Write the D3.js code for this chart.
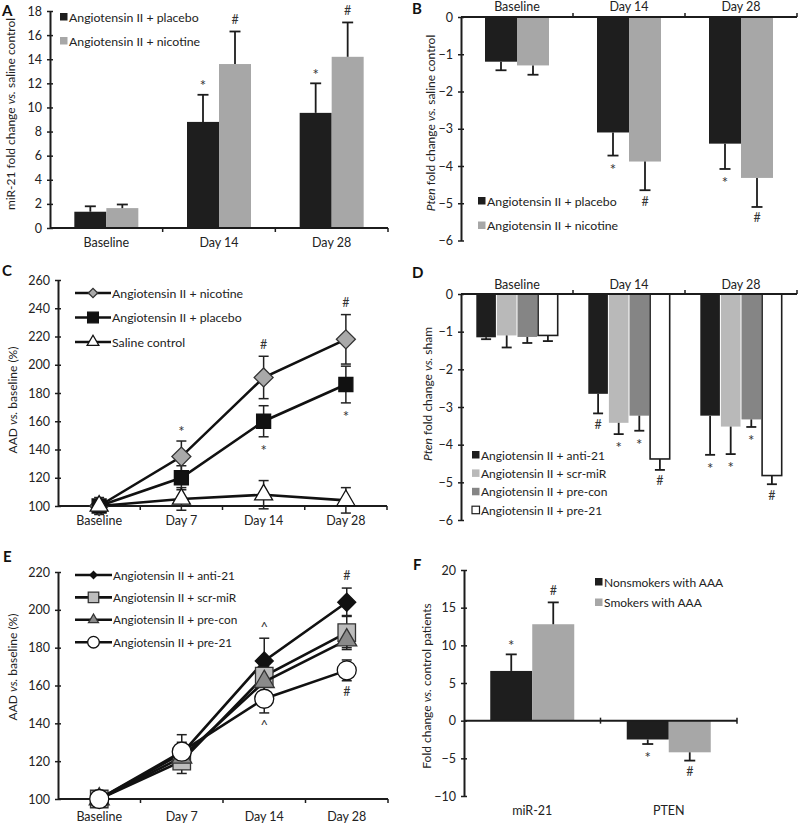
<!DOCTYPE html>
<html><head><meta charset="utf-8">
<script src="https://cdn.jsdelivr.net/npm/d3@7"></script>
<style>body{margin:0;background:#fff} svg{display:block} text{font-family:Lato,"Open Sans",sans-serif;}</style>
</head><body><svg id="c" width="800" height="824"></svg>
<script>
// ---------- Panel A ----------
const aCategories = ["Baseline", "Day 14", "Day 28"];
const aNames = ["Angiotensin II + placebo", "Angiotensin II + nicotine"];
const aPlacebo = [1.35, 8.8, 9.55];
const aPlaceboErr = [0.45, 2.25, 2.45];
const aPlaceboMarks = ["", "*", "*"];
const aNicotine = [1.65, 13.6, 14.2];
const aNicotineErr = [0.3, 2.7, 2.85];
const aNicotineMarks = ["", "#", "#"];
const aTicks = [0, 2, 4, 6, 8, 10, 12, 14, 16, 18];

// ---------- Panel B ----------
const bCategories = ["Baseline", "Day 14", "Day 28"];
const bNames = ["Angiotensin II + placebo", "Angiotensin II + nicotine"];
const bPlacebo = [-1.2, -3.1, -3.4];
const bPlaceboErr = [0.23, 0.62, 0.68];
const bPlaceboMarks = ["", "*", "*"];
const bNicotine = [-1.3, -3.88, -4.32];
const bNicotineErr = [0.25, 0.77, 0.78];
const bNicotineMarks = ["", "#", "#"];
const bTicks = [0, -1, -2, -3, -4, -5, -6];

// ---------- Panel C ----------
const cCategories = ["Baseline", "Day 7", "Day 14", "Day 28"];
const cNames = ["Angiotensin II + nicotine", "Angiotensin II + placebo", "Saline control"];
const cNicotine = [100, 135, 191, 218];
const cNicotineErr = [4, 11, 15, 17.5];
const cNicotineMarks = ["", "*", "#", "#"];
const cPlacebo = [100, 120, 160, 186];
const cPlaceboErr = [6, 8.5, 11, 13];
const cPlaceboMarks = ["", "", "*", "*"];
const cSaline = [100, 105, 108, 104];
const cSalineErr = [3, 8, 10, 9];
const cSalineMarks = ["", "", "", ""];
const cTicks = [100, 120, 140, 160, 180, 200, 220, 240, 260];

// ---------- Panel D ----------
const dCategories = ["Baseline", "Day 14", "Day 28"];
const dNames = ["Angiotensin II + anti-21", "Angiotensin II + scr-miR", "Angiotensin II + pre-con", "Angiotensin II + pre-21"];
const dAnti = [-1.15, -2.65, -3.23];
const dAntiErr = [0.05, 0.52, 1.04];
const dAntiMarks = ["", "#", "*"];
const dScr = [-1.1, -3.42, -3.52];
const dScrErr = [0.32, 0.3, 0.73];
const dScrMarks = ["", "*", "*"];
const dPreCon = [-1.14, -3.23, -3.33];
const dPreConErr = [0.16, 0.4, 0.2];
const dPreConMarks = ["", "*", "*"];
const dPre21 = [-1.1, -4.38, -4.82];
const dPre21Err = [0.15, 0.29, 0.23];
const dPre21Marks = ["", "#", "#"];
const dTicks = [0, -1, -2, -3, -4, -5, -6];

// ---------- Panel E ----------
const eCategories = ["Baseline", "Day 7", "Day 14", "Day 28"];
const eNames = ["Angiotensin II + anti-21", "Angiotensin II + scr-miR", "Angiotensin II + pre-con", "Angiotensin II + pre-21"];
const eAnti = [100, 124, 173, 204];
const eAntiErr = [0, 6, 12, 7.5];
const eAntiMarks = ["", "", "^", "#"];
const eScr = [100, 120, 165, 188];
const eScrErr = [0, 6.5, 8, 9];
const eScrMarks = ["", "", "", ""];
const ePreCon = [100, 122, 162, 184];
const ePreConErr = [0, 6, 8, 4];
const ePreConMarks = ["", "", "", ""];
const ePre21 = [100, 125, 153, 168];
const ePre21Err = [0, 9, 7.5, 5.5];
const ePre21Marks = ["", "", "^", "#"];
const eTicks = [100, 120, 140, 160, 180, 200, 220];

// ---------- Panel F ----------
const fCategories = ["miR-21", "PTEN"];
const fNames = ["Nonsmokers with AAA", "Smokers with AAA"];
const fNon = [6.6, -2.5];
const fNonErr = [2.2, 0.6];
const fNonMarks = ["*", "*"];
const fSmk = [12.8, -4.2];
const fSmkErr = [2.9, 1.1];
const fSmkMarks = ["#", "#"];
const fTicks = [-10, -5, 0, 5, 10, 15, 20];

// ================= drawing =================
const svg = d3.select("#c");
const INK = "#1c1c1c";
const fmt = d3.format("d");

function letter(t, x, y) {
  svg.append("text").attr("x", x).attr("y", y).attr("font-size", 15).attr("font-weight", 700).attr("fill", "#111").text(t);
}
function yLabel(x, y, parts) {
  const t = svg.append("text").attr("transform", `translate(${x},${y}) rotate(-90)`)
    .attr("text-anchor", "middle").attr("font-size", 12).attr("fill", "#222");
  parts.forEach(p => t.append("tspan").text(p[0]).attr("font-style", p[1] ? "italic" : null));
}
function markText(g, x, edge, sym, side) {
  if (!sym) return;
  const size = {"*": 15, "#": 12.5, "^": 13}[sym];
  const glyph = {"*": 8.2, "#": 4.4, "^": 6}[sym];
  const center = side === "up" ? edge - 12 : edge + 11;
  g.append("text").attr("x", x).attr("y", center + glyph).attr("text-anchor", "middle")
    .attr("font-size", size).attr("fill", "#333").text(sym);
}
function yAxis(g, y, x0, ticks) {
  const ax = g.append("g").attr("transform", `translate(${x0},0)`)
    .call(d3.axisLeft(y).tickValues(ticks).tickFormat(fmt).tickSize(3).tickSizeOuter(0).tickPadding(5));
  ax.select(".domain").attr("stroke", INK).attr("stroke-width", 2);
  ax.selectAll(".tick line").attr("x1", 3).attr("stroke", INK).attr("stroke-width", 1.5);
  ax.selectAll(".tick text").attr("font-size", 12.5).attr("fill", "#222").attr("font-family", "Lato");
}

function barPanel(o) {
  const g = svg.append("g");
  const x = d3.scaleBand().domain(o.categories).range([o.left, o.right]);
  const y = d3.scaleLinear().domain(o.domain).range([o.bottom, o.top]);
  const names = o.series.map(s => s.name);
  const sub = d3.scaleBand().domain(names).range([-names.length * o.step / 2, names.length * o.step / 2]);
  const y0 = y(0);
  const cxOf = (s, c) => x(c) + x.bandwidth() / 2 + sub(s.name) + sub.bandwidth() / 2;
  o.series.forEach(s => o.categories.forEach((c, i) => {
    const v = s.values[i];
    g.append("rect").attr("x", cxOf(s, c) - o.barW / 2).attr("y", Math.min(y(v), y0))
      .attr("width", o.barW).attr("height", Math.abs(y(v) - y0))
      .attr("fill", s.fill).attr("stroke", s.stroke || "none").attr("stroke-width", s.stroke ? 1.6 : 0);
  }));
  o.series.forEach(s => o.categories.forEach((c, i) => {
    const v = s.values[i], dir = v >= 0 ? 1 : -1;
    const e = y(v + dir * s.errs[i]), cx = cxOf(s, c);
    g.append("line").attr("x1", cx).attr("x2", cx).attr("y1", y(v)).attr("y2", e).attr("stroke", INK).attr("stroke-width", 1.8);
    g.append("line").attr("x1", cx - o.cap / 2).attr("x2", cx + o.cap / 2).attr("y1", e).attr("y2", e).attr("stroke", INK).attr("stroke-width", 1.8);
    markText(g, cx, e, s.marks[i], dir > 0 ? "up" : "down");
  }));
  yAxis(g, y, o.left, o.ticks);
  g.append("line").attr("x1", o.left).attr("x2", o.right).attr("y1", y0).attr("y2", y0).attr("stroke", INK).attr("stroke-width", 2);
  const bounds = o.categories.slice(1).map(c => x(c)).concat([o.right]);
  bounds.forEach(b => {
    const t0 = o.xTick === "cross" ? -3 : 0, t1 = o.xTick === "cross" ? 3 : o.xTick;
    g.append("line").attr("x1", b).attr("x2", b).attr("y1", y0 + t0).attr("y2", y0 + t1).attr("stroke", INK).attr("stroke-width", 1.5);
  });
  o.categories.forEach(c => g.append("text").attr("x", x(c) + x.bandwidth() / 2).attr("y", o.catY)
    .attr("text-anchor", "middle").attr("font-size", 12.5).attr("fill", "#222").text(c));
  o.series.forEach((s, i) => {
    const ly = o.legY + i * o.legDy;
    g.append("rect").attr("x", o.legX).attr("y", ly - 4).attr("width", 7.5).attr("height", 7.5)
      .attr("fill", s.fill).attr("stroke", s.stroke || "none").attr("stroke-width", s.stroke ? 1.2 : 0);
    g.append("text").attr("x", o.legX + 9).attr("y", ly + 4.5).attr("font-size", o.legSize).attr("fill", "#222").text(s.name);
  });
}

function markerPath(m, size) {
  const type = {diamond: d3.symbolSquare, square: d3.symbolSquare, triangle: d3.symbolTriangle, circle: d3.symbolCircle}[m.shape];
  return d3.symbol().type(type).size(size)();
}
function drawMarker(g, m, size, cx, cy) {
  g.append("path").attr("d", markerPath(m, size))
    .attr("transform", `translate(${cx},${cy})` + (m.shape === "diamond" ? " rotate(45)" : ""))
    .attr("fill", m.fill).attr("stroke", m.stroke).attr("stroke-width", 1.3);
}

function linePanel(o) {
  const g = svg.append("g");
  const x = d3.scaleBand().domain(o.categories).range([o.left, o.right]);
  const y = d3.scaleLinear().domain(o.domain).range([o.bottom, o.top]);
  const cx = c => x(c) + x.bandwidth() / 2;
  yAxis(g, y, o.left, o.ticks);
  g.append("line").attr("x1", o.left).attr("x2", o.right).attr("y1", o.bottom).attr("y2", o.bottom).attr("stroke", INK).attr("stroke-width", 2);
  o.categories.slice(1).map(c => x(c)).concat([o.right]).forEach(b =>
    g.append("line").attr("x1", b).attr("x2", b).attr("y1", o.bottom).attr("y2", o.bottom + 4).attr("stroke", INK).attr("stroke-width", 1.5));
  o.categories.forEach(c => g.append("text").attr("x", cx(c)).attr("y", o.catY)
    .attr("text-anchor", "middle").attr("font-size", 12.5).attr("fill", "#222").text(c));
  o.series.forEach(s => o.categories.forEach((c, i) => {
    const e = s.errs[i]; if (!e) return;
    const hi = y(s.values[i] + e), lo = y(s.values[i] - e), X = cx(c);
    g.append("line").attr("x1", X).attr("x2", X).attr("y1", hi).attr("y2", lo).attr("stroke", "#222").attr("stroke-width", 1.5);
    [hi, lo].forEach(yy => g.append("line").attr("x1", X - 5).attr("x2", X + 5).attr("y1", yy).attr("y2", yy).attr("stroke", "#222").attr("stroke-width", 1.5));
  }));
  const line = d3.line().x((d, i) => cx(o.categories[i])).y(d => y(d));
  o.series.forEach(s => {
    g.append("path").attr("d", line(s.values)).attr("fill", "none").attr("stroke", "#111").attr("stroke-width", 2.6);
    s.values.forEach((v, i) => drawMarker(g, s.marker, s.marker.size, cx(o.categories[i]), y(v)));
  });
  o.series.forEach(s => s.values.forEach((v, i) => {
    const side = s.markSide;
    const edge = side === "up" ? y(v + s.errs[i]) : y(v - s.errs[i]);
    markText(g, cx(o.categories[i]), edge, s.marks[i], side);
  }));
  o.legendOrder.forEach((idx, i) => {
    const s = o.series[idx], ly = o.legY + i * o.legDy;
    g.append("line").attr("x1", o.legX0).attr("x2", o.legX1).attr("y1", ly).attr("y2", ly).attr("stroke", "#111").attr("stroke-width", 2.6);
    drawMarker(g, s.marker, s.marker.legSize, (o.legX0 + o.legX1) / 2, ly);
    g.append("text").attr("x", o.legX1 + 1).attr("y", ly + 4.5).attr("font-size", o.legSize).attr("fill", "#222").text(s.name);
  });
}

// ---- A ----
letter("A", 2, 16);
yLabel(15, 114, [["miR-21 fold change "], ["vs.", true], [" saline control"]]);
barPanel({categories: aCategories, left: 50, right: 388, top: 11, bottom: 228, domain: [0, 18], ticks: aTicks,
  step: 32, barW: 32, cap: 11, xTick: 4, catY: 247, legX: 60, legY: 17, legDy: 24, legSize: 12.3,
  series: [
    {name: aNames[0], values: aPlacebo, errs: aPlaceboErr, marks: aPlaceboMarks, fill: "#1e1e1e"},
    {name: aNames[1], values: aNicotine, errs: aNicotineErr, marks: aNicotineMarks, fill: "#a7a7a7"}]});

// ---- B ----
letter("B", 412, 14);
yLabel(435, 123, [["Pten", true], [" fold change "], ["vs.", true], [" saline control"]]);
barPanel({categories: bCategories, left: 461, right: 797, top: 17, bottom: 240.5, domain: [-6, 0], ticks: bTicks,
  step: 32, barW: 32, cap: 11, xTick: -4, catY: 11, legX: 478, legY: 201, legDy: 24.5, legSize: 12.3,
  series: [
    {name: bNames[0], values: bPlacebo, errs: bPlaceboErr, marks: bPlaceboMarks, fill: "#1e1e1e"},
    {name: bNames[1], values: bNicotine, errs: bNicotineErr, marks: bNicotineMarks, fill: "#a7a7a7"}]});

// ---- C ----
letter("C", 2, 276);
yLabel(17, 400, [["AAD "], ["vs.", true], [" baseline (%)"]]);
linePanel({categories: cCategories, left: 58, right: 387, top: 280, bottom: 506, domain: [100, 260], ticks: cTicks,
  catY: 525, legX0: 75, legX1: 111, legY: 293, legDy: 24.5, legSize: 12.3, legendOrder: [0, 1, 2],
  series: [
    {name: cNames[0], values: cNicotine, errs: cNicotineErr, marks: cNicotineMarks, markSide: "up",
      marker: {shape: "diamond", size: 180, legSize: 44, fill: "#a9a9a9", stroke: "#333"}},
    {name: cNames[1], values: cPlacebo, errs: cPlaceboErr, marks: cPlaceboMarks, markSide: "down",
      marker: {shape: "square", size: 196, legSize: 115, fill: "#111", stroke: "#111"}},
    {name: cNames[2], values: cSaline, errs: cSalineErr, marks: cSalineMarks, markSide: "up",
      marker: {shape: "triangle", size: 140, legSize: 60, fill: "#fff", stroke: "#111"}}]});

// ---- D ----
letter("D", 412, 278);
yLabel(432, 394, [["Pten", true], [" fold change "], ["vs.", true], [" sham"]]);
barPanel({categories: dCategories, left: 461, right: 797, top: 294, bottom: 520, domain: [-6, 0], ticks: dTicks,
  step: 20.6, barW: 19.6, cap: 10, xTick: -4, catY: 289, legX: 472, legY: 455, legDy: 18.4, legSize: 12,
  series: [
    {name: dNames[0], values: dAnti, errs: dAntiErr, marks: dAntiMarks, fill: "#1e1e1e"},
    {name: dNames[1], values: dScr, errs: dScrErr, marks: dScrMarks, fill: "#b9b9b9"},
    {name: dNames[2], values: dPreCon, errs: dPreConErr, marks: dPreConMarks, fill: "#858585"},
    {name: dNames[3], values: dPre21, errs: dPre21Err, marks: dPre21Marks, fill: "#fff", stroke: "#1e1e1e"}]});

// ---- E ----
letter("E", 3, 562);
yLabel(17, 667, [["AAD "], ["vs.", true], [" baseline (%)"]]);
linePanel({categories: eCategories, left: 58, right: 388, top: 572, bottom: 799, domain: [100, 220], ticks: eTicks,
  catY: 821, legX0: 75, legX1: 112, legY: 575, legDy: 22.4, legSize: 11.8, legendOrder: [0, 1, 2, 3],
  series: [
    {name: eNames[0], values: eAnti, errs: eAntiErr, marks: eAntiMarks, markSide: "up",
      marker: {shape: "diamond", size: 162, legSize: 25, fill: "#111", stroke: "#111"}},
    {name: eNames[1], values: eScr, errs: eScrErr, marks: eScrMarks, markSide: "up",
      marker: {shape: "square", size: 306, legSize: 110, fill: "#bdbdbd", stroke: "#333"}},
    {name: eNames[2], values: ePreCon, errs: ePreConErr, marks: ePreConMarks, markSide: "up",
      marker: {shape: "triangle", size: 173, legSize: 43, fill: "#8a8a8a", stroke: "#333"}},
    {name: eNames[3], values: ePre21, errs: ePre21Err, marks: ePre21Marks, markSide: "down",
      marker: {shape: "circle", size: 283, legSize: 106, fill: "#fff", stroke: "#111"}}]});

// ---- F ----
letter("F", 413, 570);
yLabel(431, 686, [["Fold change "], ["vs.", true], [" control patients"]]);
barPanel({categories: fCategories, left: 464, right: 737, top: 570, bottom: 796, domain: [-10, 20], ticks: fTicks,
  step: 42, barW: 42, cap: 11, xTick: "cross", catY: 815, legX: 595, legY: 582, legDy: 20.5, legSize: 12,
  series: [
    {name: fNames[0], values: fNon, errs: fNonErr, marks: fNonMarks, fill: "#1e1e1e"},
    {name: fNames[1], values: fSmk, errs: fSmkErr, marks: fSmkMarks, fill: "#a7a7a7"}]});
</script></body></html>
